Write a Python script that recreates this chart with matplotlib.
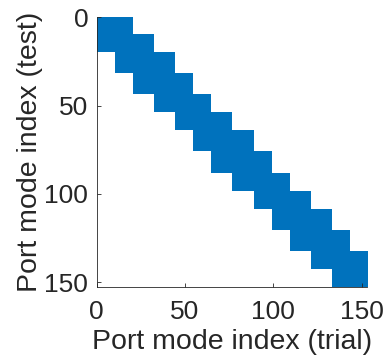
import numpy as np
import matplotlib
matplotlib.use("Agg")
import matplotlib.pyplot as plt
from matplotlib.colors import ListedColormap

# Block sizes (modes per port group), block-tridiagonal coupling
group_sizes = [10, 10, 12, 12, 10, 10, 12, 12, 10, 10, 12, 12, 10, 10]
tick_values = [0, 50, 100, 150]
xlabel_text = "Port mode index (trial)"
ylabel_text = "Port mode index (test)"

n = sum(group_sizes)
edges = np.concatenate([[0], np.cumsum(group_sizes)])
M = np.zeros((n, n))
ng = len(group_sizes)
for i in range(ng):
    for j in range(max(0, i - 1), min(ng, i + 2)):
        M[edges[i]:edges[i + 1], edges[j]:edges[j + 1]] = 1

plt.rcParams['font.family'] = ['Liberation Sans', 'DejaVu Sans']
fig = plt.figure(figsize=(3.84, 3.64), dpi=100)
ax = fig.add_axes([0.2518, 0.2107, 0.7037, 0.7418])

cmap = ListedColormap(['white', '#0072BD'])
ax.imshow(M, cmap=cmap, vmin=0, vmax=1, extent=[0, n + 1, n + 1, 0],
          interpolation='nearest', aspect='auto')
ax.set_xlim(0, n + 1)
ax.set_ylim(n + 1, 0)

ax.set_xticks(tick_values)
ax.set_yticks(tick_values)
ax.tick_params(direction='in', length=3, width=0.6, colors='#262626',
               labelsize=19)
ax.tick_params(axis='x', pad=9)
ax.tick_params(axis='y', pad=6)
for s in ['top', 'right']:
    ax.spines[s].set_visible(False)
for s in ['left', 'bottom']:
    ax.spines[s].set_color('#262626')
    ax.spines[s].set_linewidth(0.6)

ax.set_xlabel(xlabel_text, fontsize=20.5, color='#262626', labelpad=4)
ax.set_ylabel(ylabel_text, fontsize=20.5, color='#262626', labelpad=1)

fig.savefig("out.png", dpi=100)
